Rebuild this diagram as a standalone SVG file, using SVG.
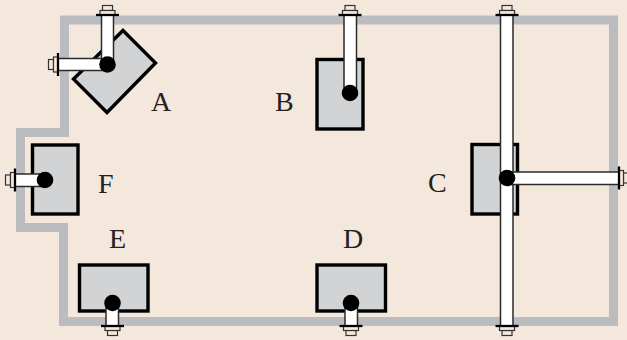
<svg xmlns="http://www.w3.org/2000/svg" xmlns:xlink="http://www.w3.org/1999/xlink" width="627" height="340" viewBox="0 0 627 340">
<style>
.wall{fill:none;stroke:#bbbcc0;stroke-width:9;stroke-linejoin:miter}
.box{fill:#d1d3d5;stroke:#000;stroke-width:3.4}
.pipe{fill:#fff;stroke:#2a2a2a;stroke-width:1.5}
.hub{fill:#000}
.flange{stroke:#000;stroke-width:2.300;fill:none}
.cap{fill:#f5e9de;stroke:#333;stroke-width:1.200}
.lbl{font-family:"Liberation Serif","Times New Roman",serif;font-size:28px;fill:#222}
</style>
<defs>
<g id="bolt">
<rect class="cap" x="-5" y="-9.500" width="10" height="5"/>
<rect class="cap" x="-7.500" y="-4.500" width="15" height="4.500"/>
<line class="flange" x1="-11.500" y1="0" x2="11.500" y2="0"/>
</g>
</defs>
<rect width="627" height="340" fill="#f4e8dd"/>
<g id="wall">
<path class="wall" d="M64.500 132V20H613.500V321.500H63.500V227.500H20.500V132.500H69"/>
</g>
<g id="node-A">
<polygon class="box" points="123,30.500 155.500,63 107,112.500 73.500,79"/>
<rect class="pipe" x="58" y="58.500" width="49" height="12"/>
<rect class="pipe" x="101.500" y="15" width="12" height="49"/>
<use xlink:href="#bolt" href="#bolt" transform="translate(107.500 15)"/>
<use xlink:href="#bolt" href="#bolt" transform="translate(58 64.500) rotate(-90)"/>
<circle class="hub" cx="107.500" cy="64.500" r="8.300"/>
<text class="lbl" x="151" y="111">A</text>
</g>
<g id="node-B">
<rect class="box" x="317" y="59.500" width="46" height="69.500"/>
<rect class="pipe" x="344" y="15" width="12.500" height="78"/>
<use xlink:href="#bolt" href="#bolt" transform="translate(350 15)"/>
<circle class="hub" cx="350" cy="93" r="8.300"/>
<text class="lbl" x="275" y="111">B</text>
</g>
<g id="node-C">
<rect class="box" x="472" y="144.500" width="45.500" height="69.500"/>
<rect class="pipe" x="500.500" y="15" width="12.500" height="311"/>
<rect class="pipe" x="507" y="172" width="112" height="12.500"/>
<use xlink:href="#bolt" href="#bolt" transform="translate(507 15)"/>
<use xlink:href="#bolt" href="#bolt" transform="translate(507 326) rotate(180)"/>
<use xlink:href="#bolt" href="#bolt" transform="translate(619 178) rotate(90)"/>
<circle class="hub" cx="507" cy="178" r="8.300"/>
<text class="lbl" x="428" y="192">C</text>
</g>
<g id="node-D">
<rect class="box" x="317" y="265" width="68.500" height="46"/>
<rect class="pipe" x="345" y="303" width="12.500" height="23"/>
<use xlink:href="#bolt" href="#bolt" transform="translate(351 326) rotate(180)"/>
<circle class="hub" cx="351" cy="303" r="8.300"/>
<text class="lbl" x="343" y="248">D</text>
</g>
<g id="node-E">
<rect class="box" x="79.500" y="265" width="68.500" height="46"/>
<rect class="pipe" x="106" y="303" width="12.500" height="23"/>
<use xlink:href="#bolt" href="#bolt" transform="translate(112.500 326) rotate(180)"/>
<circle class="hub" cx="112.500" cy="303" r="8.300"/>
<text class="lbl" x="109" y="248">E</text>
</g>
<g id="node-F">
<rect class="box" x="32.500" y="145" width="45.500" height="69"/>
<rect class="pipe" x="15" y="174" width="30" height="12.500"/>
<use xlink:href="#bolt" href="#bolt" transform="translate(15 180) rotate(-90)"/>
<circle class="hub" cx="45" cy="180" r="8.300"/>
<text class="lbl" x="98" y="193">F</text>
</g>
</svg>
